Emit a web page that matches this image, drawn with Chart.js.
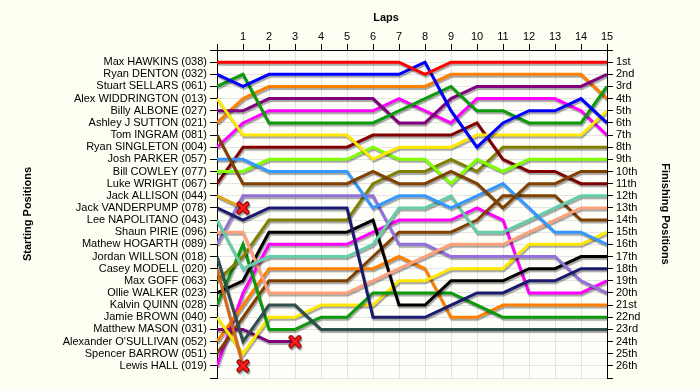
<!DOCTYPE html>
<html>
<head>
<meta charset="utf-8">
<script src="https://cdn.jsdelivr.net/npm/chart.js@4.4.1/dist/chart.umd.min.js"></script>
<style>
  html, body { margin: 0; padding: 0; background: #fefef2; }
  #wrap { width: 700px; height: 390px; }
</style>
</head>
<body>
<div id="wrap"><canvas id="laps" width="700" height="390"></canvas></div>
<script>
// lap 0 is the starting grid
const laps = [0, 1, 2, 3, 4, 5, 6, 7, 8, 9, 10, 11, 12, 13, 14, 15];

const drivers = [
    'Max HAWKINS (038)', 'Ryan DENTON (032)', 'Stuart SELLARS (061)', 'Alex WIDDRINGTON (013)',
    'Billy ALBONE (027)', 'Ashley J SUTTON (021)', 'Tom INGRAM (081)', 'Ryan SINGLETON (004)',
    'Josh PARKER (057)', 'Bill COWLEY (077)', 'Luke WRIGHT (067)', 'Jack ALLISON (044)',
    'Jack VANDERPUMP (078)', 'Lee NAPOLITANO (043)', 'Shaun PIRIE (096)', 'Mathew HOGARTH (089)',
    'Jordan WILLSON (018)', 'Casey MODELL (020)', 'Max GOFF (063)', 'Ollie WALKER (023)',
    'Kalvin QUINN (028)', 'Jamie BROWN (040)', 'Matthew MASON (031)', "Alexander O'SULLIVAN (052)",
    'Spencer BARROW (051)', 'Lewis HALL (019)'
];

const finishLabels = [
    '1st', '2nd', '3rd', '4th', '5th', '6th', '7th', '8th', '9th', '10th', '11th', '12th', '13th',
    '14th', '15th', '16th', '17th', '18th', '19th', '20th', '21st', '22nd', '23rd', '24th', '25th', '26th'
];

// position at each lap (shorter array = did not finish)
const hawkins     = [1, 1, 1, 1, 1, 1, 1, 1, 2, 1, 1, 1, 1, 1, 1, 1];
const denton      = [2, 3, 2, 2, 2, 2, 2, 2, 1, 5, 8, 6, 5, 5, 4, 6];
const sellars     = [3, 2, 6, 6, 6, 6, 6, 5, 4, 3, 5, 5, 6, 6, 6, 3];
const widdrington = [4, 7, 7, 7, 7, 7, 9, 8, 8, 8, 7, 7, 7, 7, 7, 5];
const albone      = [5, 5, 4, 4, 4, 4, 4, 6, 6, 4, 3, 3, 3, 3, 3, 2];
const sutton      = [6, 4, 3, 3, 3, 3, 3, 3, 3, 2, 2, 2, 2, 2, 2, 4];
const ingram      = [7, 11, 11, 11, 11, 11, 10, 11, 11, 10, 11, 13, 11, 11, 10, 10];
const singleton   = [8, 6, 5, 5, 5, 5, 5, 4, 5, 6, 4, 4, 4, 4, 5, 7];
const parker      = [9, 9, 10, 10, 10, 10, 13, 12, 12, 13, 12, 11, 13, 15, 15, 16];
const cowley      = [10, 10, 9, 9, 9, 9, 8, 9, 9, 11, 9, 10, 9, 9, 9, 9];
const wright      = [11, 8, 8, 8, 8, 8, 7, 7, 7, 7, 6, 9, 10, 10, 11, 11];
const allison     = [12, 13];
const vanderpump  = [13, 14, 13, 13, 13, 13, 22, 22, 22, 21, 20, 20, 19, 19, 18, 18];
const napolitano  = [14, 18, 17, 17, 17, 17, 16, 13, 13, 12, 15, 15, 14, 13, 12, 12];
const pirie       = [15, 15, 20, 20, 20, 20, 19, 18, 17, 16, 16, 16, 15, 14, 13, 13];
const hogarth     = [16, 12, 12, 12, 12, 12, 12, 16, 16, 17, 17, 17, 17, 17, 19, 20];
const willson     = [17, 24, 21, 21, 23, 23, 23, 23, 23, 23, 23, 23, 23, 23, 23, 23];
const modell      = [18, 26];
const goff        = [19, 17, 14, 14, 14, 14, 11, 10, 10, 9, 10, 8, 8, 8, 8, 8];
const walker      = [20, 19, 15, 15, 15, 15, 14, 21, 21, 19, 19, 19, 18, 18, 17, 17];
const quinn       = [21, 16, 23, 23, 22, 22, 20, 20, 20, 20, 21, 22, 22, 22, 22, 22];
const brown       = [22, 25, 22, 22, 21, 21, 21, 19, 19, 18, 18, 18, 16, 16, 16, 15];
const mason       = [23, 23, 24, 24];
const osullivan   = [24, 21, 18, 18, 18, 18, 18, 17, 18, 22, 22, 21, 21, 21, 21, 21];
const barrow      = [25, 22, 19, 19, 19, 19, 17, 15, 15, 15, 14, 12, 12, 12, 14, 14];
const hall        = [26, 20, 16, 16, 16, 16, 15, 14, 14, 14, 13, 14, 20, 20, 20, 19];

const series = [
    hawkins, denton, sellars, widdrington, albone, sutton, ingram, singleton, parker, cowley,
    wright, allison, vanderpump, napolitano, pirie, hogarth, willson, modell, goff, walker,
    quinn, brown, mason, osullivan, barrow, hall
];

const colors = [
    '#ff0000', '#0000ff', '#0a9a0a', '#ffe800', '#800080', '#ff8000', '#804000', '#ff00ff',
    '#3399ff', '#80ff00', '#800000', '#daa520', '#1a1a6e', '#66cdaa', '#ffa07a', '#9370db',
    '#2f4f4f', '#d2691e', '#808000', '#000000', '#0a9a0a', '#ffe800', '#800080', '#ff8000',
    '#804000', '#ff00ff'
];

const font = { family: "'Liberation Sans', Arial, sans-serif", size: 11 };
const bold = { family: "'Liberation Sans', Arial, sans-serif", size: 11, weight: 'bold' };

// red cross for a retirement
function crashMark() {
    let c = document.createElement('canvas');
    c.width = 14; c.height = 14;
    let g = c.getContext('2d');
    g.lineCap = 'round';
    g.beginPath();
    g.moveTo(3, 3); g.lineTo(11, 11);
    g.moveTo(11, 3); g.lineTo(3, 11);
    g.strokeStyle = '#7a0000'; g.lineWidth = 5; g.stroke();
    g.strokeStyle = '#ff1a1a'; g.lineWidth = 3; g.stroke();
    return c;
}
const cross = crashMark();

const datasets = series.map((pos, i) => ({
    label: drivers[i],
    data: pos.map((p, lap) => ({ x: laps[lap], y: p })),
    borderColor: colors[i],
    backgroundColor: colors[i],
    borderWidth: 3,
    tension: 0,
    fill: false,
    pointStyle: cross,
    pointRadius: pos.map((p, lap) => (pos.length < laps.length && lap === pos.length - 1) ? 6 : 0),
    pointHoverRadius: 0
}));

const paper = {
    id: 'paper',
    beforeDraw(chart) {
        let { ctx, chartArea: a } = chart;
        ctx.save();
        ctx.fillStyle = '#fefef2';
        ctx.fillRect(0, 0, chart.width, chart.height);
        ctx.fillStyle = '#fffffa';
        ctx.fillRect(a.left, a.top, a.right - a.left, a.bottom - a.top);
        ctx.restore();
    }
};

const shadow = {
    id: 'shadow',
    beforeDatasetDraw(chart) {
        let c = chart.ctx;
        c.save();
        c.shadowColor = 'rgba(0,0,0,0.35)';
        c.shadowOffsetX = 1;
        c.shadowOffsetY = 2;
        c.shadowBlur = 1;
    },
    afterDatasetDraw(chart) {
        chart.ctx.restore();
    }
};

// "Laps" sits a little left of the plot centre
const lapsTitle = {
    id: 'lapsTitle',
    afterDraw(chart) {
        let ctx = chart.ctx;
        ctx.save();
        ctx.font = "bold 11px 'Liberation Sans', Arial, sans-serif";
        ctx.fillStyle = '#000';
        ctx.textAlign = 'center';
        ctx.textBaseline = 'middle';
        ctx.fillText('Laps', 386, 18);
        ctx.restore();
    }
};

new Chart(document.getElementById('laps').getContext('2d'), {
    type: 'line',
    data: { datasets: datasets },
    plugins: [paper, shadow, lapsTitle],
    options: {
        responsive: false,
        animation: false,
        events: [],
        layout: { padding: { bottom: 12 } },
        plugins: {
            legend: { display: false },
            tooltip: { enabled: false }
        },
        scales: {
            x: {
                type: 'linear',
                position: 'top',
                min: 0,
                max: 15,
                ticks: { stepSize: 1, autoSkip: false, padding: 0, color: '#000', font: font,
                    callback: v => v === 0 ? '' : v },
                grid: { color: '#e4e4e4', tickColor: '#000', tickLength: 6 },
                border: { color: '#000' },
                afterFit: s => { s.height = 50; }
            },
            y: {
                type: 'linear',
                position: 'left',
                reverse: true,
                min: 0,
                max: 27,
                ticks: { stepSize: 1, autoSkip: false, padding: 3, color: '#000', font: font,
                    callback: v => drivers[v - 1] || '' },
                grid: { color: '#e4e4e4', tickColor: '#000', tickLength: 7 },
                border: { color: '#000' },
                title: { display: true, text: 'Starting Positions', color: '#000', font: bold,
                    padding: { top: 21, bottom: 0 } },
                afterFit: s => { s.width = 217; }
            },
            y2: {
                type: 'linear',
                position: 'right',
                reverse: true,
                min: 0,
                max: 27,
                ticks: { stepSize: 1, autoSkip: false, padding: 3, color: '#000', font: font,
                    callback: v => finishLabels[v - 1] || '' },
                grid: { drawOnChartArea: false, tickColor: '#000', tickLength: 6 },
                border: { color: '#000' },
                title: { display: true, text: 'Finishing Positions', color: '#000', font: bold,
                    padding: { top: 28, bottom: 0 } },
                afterFit: s => { s.width = 93; }
            }
        }
    }
});
</script>
</body>
</html>
